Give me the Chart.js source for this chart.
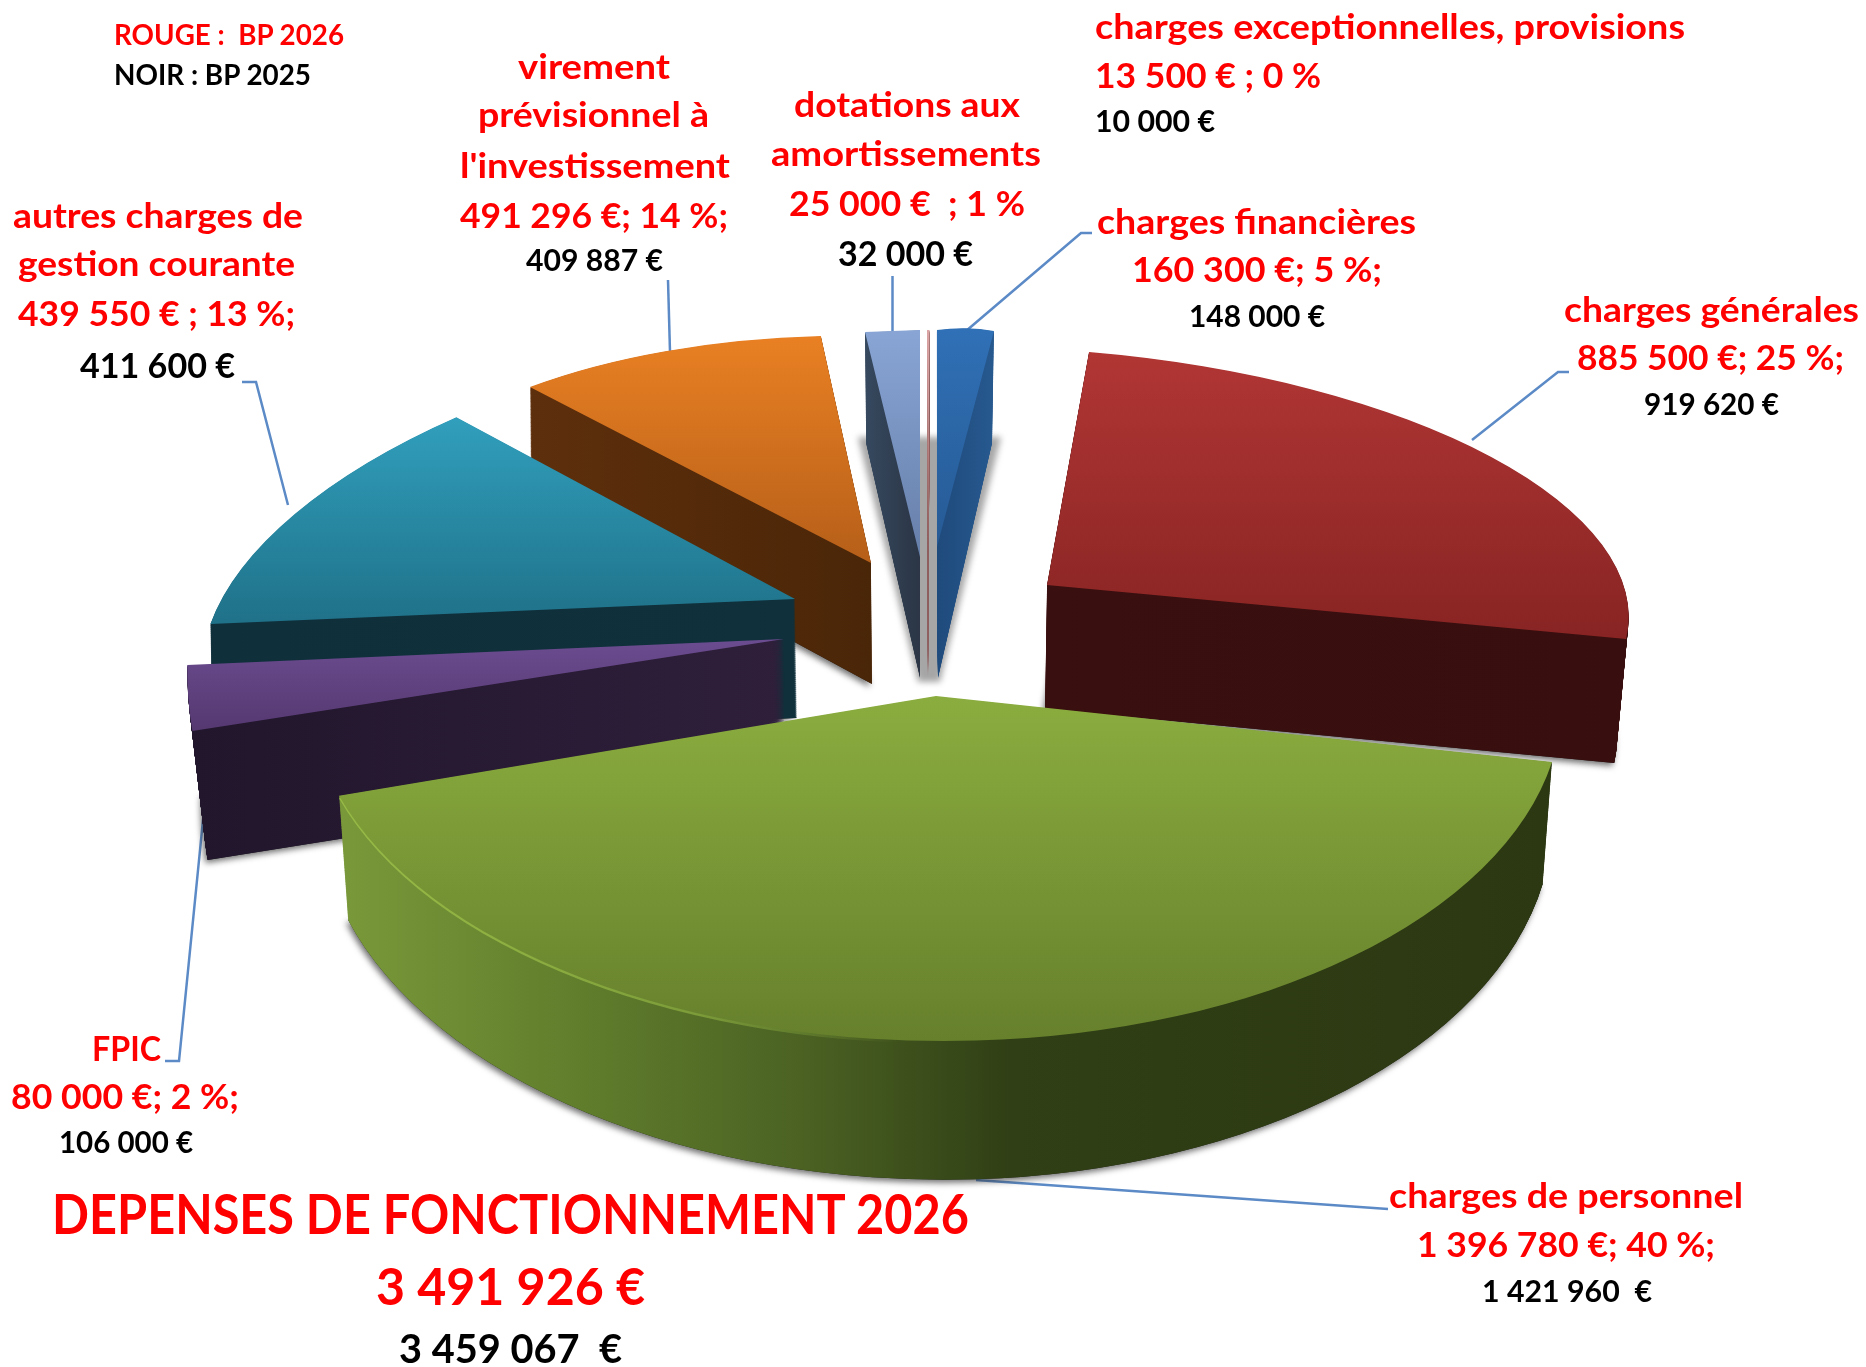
<!DOCTYPE html>
<html lang="fr">
<head>
<meta charset="utf-8">
<title>Dépenses de fonctionnement 2026</title>
<script src="https://cdn.jsdelivr.net/npm/chart.js@4/dist/chart.umd.min.js"></script>
<style>
html,body{margin:0;padding:0;background:#fff;width:1866px;height:1367px;overflow:hidden}
#chart{position:absolute;left:0;top:0}
.t{position:absolute;white-space:pre;font-family:Lato,Carlito,sans-serif;font-weight:700;line-height:1;transform-origin:0 0}
</style>
</head>
<body>
<canvas id="chart" width="1866" height="1367"></canvas>
<script>
// ---------- DATA ----------
const categories = ["charges exceptionnelles, provisions","charges financières","charges générales","charges de personnel","FPIC","autres charges de gestion courante","virement prévisionnel à l'investissement","dotations aux amortissements"];
const values2026 = [13500,160300,885500,1396780,80000,439550,491296,25000];
const values2025 = [10000,148000,919620,1421960,106000,411600,409887,32000];
const baseColors = ["#c98a8a","#2c66a8","#9c2d2c","#7a9a37","#5f4285","#2a87a3","#d0701f","#7a93c0"];

// ---------- STYLE / VIEW (oblique projection of each exploded slice) ----------
const paintOrder = [7,0,1,6,5,4,2,3];
const sliceViews = [
 {apex:[928,555],U:[100,0],V:[-1,-225],drop:123,dx:0,shrink:0,gx:0,gy:.05,
  top:[330,560,"#dca6a6","#b97f7f"],wall:[[900,"#a06a6a"],[960,"#7a5050"]],shadow:false},
 {apex:[937,547],U:[200.3,-33.3],V:[-4.9,-216.3],drop:131,dx:1,shrink:.05,gx:0,gy:.088,
  top:[330,550,"#3070b6","#265a94"],wall:[[937,"#1f4a7c"],[994,"#27598f"]],shadow:false},
 {apex:[1047,585],U:[565,-25.3],V:[-138.5,-236.6],drop:124,dx:-2,shrink:.017,gx:0,gy:0,
  top:[352,640,"#b13634","#872423"],wall:[[1040,"#3a0f0f"],[1630,"#380e0e"]],shadow:true},
 {apex:[936,696],U:[626,0],V:[-8,-345],drop:118,dx:0,shrink:.015,gx:0,gy:.06,sweep:[-8.2,0],
  top:[696,1041,"#8bad3f","#66802c"],wall:[[337,"#7a993a"],[560,"#62802d"],[800,"#4b6223"],[1010,"#303f15"],[1550,"#2c3812"]],
  rim:[[337,"rgba(155,190,72,.9)"],[700,"rgba(150,185,70,.6)"],[900,"rgba(150,185,70,0)"]],shadow:true},
 {apex:[784,639],U:[589,42.9],V:[96,-461],drop:129,dx:1,shrink:.024,gx:0,gy:0,
  top:[640,731,"#6b4c90","#553870"],wall:[[190,"#21162c"],[790,"#2f1f3b"]],shadow:true},
 {apex:[795,599],U:[563,17],V:[187.6,-281],drop:119,dx:2,shrink:0,gx:0,gy:0,
  top:[417,625,"#319fbd","#1f7188"],wall:[[210,"#0f2f3b"],[800,"#10303b"]],shadow:true},
 {apex:[871,563],U:[512.3,26.2],V:[38.6,-225.8],drop:121,dx:1,shrink:0,gx:.026,gy:0,sweep:[7.32,-7.33],
  top:[336,563,"#e98023","#b65f19"],wall:[[530,"#5e2f0c"],[872,"#4a2608"]],shadow:true},
 {apex:[920,557],U:[1223,-40],V:[0,-227],drop:121,dx:0,shrink:.02,gx:0,gy:.044,
  top:[330,560,"#89a5d5","#667fa9"],wall:[[865,"#36495f"],[920,"#2b3545"]],shadow:false}
];
const leaderColor = "#5b8ac6";
const leaders = [
 [[892.5,276],[892.5,332]],
 [[966,331],[1081,233],[1092,233]],
 [[668,280],[670,352]],
 [[242,382],[256,382],[288,505]],
 [[165,1061],[179,1061],[205,800]],
 [[1472,440],[1558,372],[1569,372]],
 [[976,1180],[1388,1209]]
];

// ---------- TEXT ----------
const red="#ff0000", black="#000000";
const textLines = [
 ["ROUGE :  BP 2026",114,344,45,28,red],
 ["NOIR : BP 2025",114,311,85,28,black],
 ["virement",518,670,79,34,red],
 ["prévisionnel à",478,709,127,34,red],
 ["l'investissement",460,730,178,34,red],
 ["491 296 €; 14 %;",460,728,228,34,red],
 ["409 887 €",526,663,271,30,black],
 ["dotations aux",794,1020,117,34,red],
 ["amortissements",771,1041,166,34,red],
 ["25 000 €  ; 1 %",789,1025,216,34,red],
 ["32 000 €",838,973,266,34,black],
 ["autres charges de",13,303,228,34,red],
 ["gestion courante",18,295,276,34,red],
 ["439 550 € ; 13 %;",18,295,326,34,red],
 ["411 600 €",80,235,378,34,black],
 ["charges exceptionnelles, provisions",1095,1685,39,34,red],
 ["13 500 € ; 0 %",1095,1321,88,34,red],
 ["10 000 €",1095,1215,132,30,black],
 ["charges financières",1097,1416,234,34,red],
 ["160 300 €; 5 %;",1132,1382,282,34,red],
 ["148 000 €",1189,1325,327,30,black],
 ["charges générales",1564,1859,322,34,red],
 ["885 500 €; 25 %;",1577,1844,370,34,red],
 ["919 620 €",1644,1779,415,30,black],
 ["charges de personnel",1389,1743,1208,34,red],
 ["1 396 780 €; 40 %;",1417,1715,1257,34,red],
 ["1 421 960  €",1482,1652,1302,30,black],
 ["FPIC",92,161,1061,34,red],
 ["80 000 €; 2 %;",11,239,1109,34,red],
 ["106 000 €",59,193,1153,30,black],
 ["DEPENSES DE FONCTIONNEMENT 2026",52,969,1235,55,red],
 ["3 491 926 €",376,645,1305,52,red],
 ["3 459 067  €",399,622,1363,40,black]
];

// ---------- DRAWING ----------
const layer = document.createElement("canvas");
layer.width = 1866; layer.height = 1367;
const lctx = layer.getContext("2d");

function matrix(view, arc, t){
  const R = arc.outerRadius, cx = arc.x, cy = arc.y;
  const warp = v => [v[0]*(1-t*view.shrink), v[1]+t*(view.gx*v[0]+view.gy*v[1])];
  const U = warp(view.U), V = warp(view.V);
  const ax = view.apex[0]+t*view.dx, ay = view.apex[1]+t*view.drop;
  const a=U[0]/R, b=U[1]/R, c=-V[0]/R, d=-V[1]/R;
  return [a,b,c,d,ax-a*cx-c*cy,ay-b*cx-d*cy];
}
function clearLayer(){
  lctx.setTransform(1,0,0,1,0,0);
  lctx.globalCompositeOperation="source-over";
  lctx.clearRect(0,0,1866,1367);
}
function paintLayer(fill){
  lctx.setTransform(1,0,0,1,0,0);
  lctx.globalCompositeOperation="source-in";
  lctx.fillStyle=fill;
  lctx.fillRect(0,0,1866,1367);
  lctx.globalCompositeOperation="source-over";
}
function hGradient(stops){
  const g=lctx.createLinearGradient(stops[0][0],0,stops[stops.length-1][0],0);
  const x0=stops[0][0],x1=stops[stops.length-1][0];
  stops.forEach(s=>g.addColorStop((s[0]-x0)/(x1-x0),s[1]));
  return g;
}
function drawSlice(ctx,arc,view){
  const s0=arc.startAngle,e0=arc.endAngle;
  if(view.sweep){
    arc.startAngle=s0+view.sweep[0]*Math.PI/180;
    arc.endAngle=e0+view.sweep[1]*Math.PI/180;
  }
  // cast shadow from the base plate of the slice
  if(view.shadow){
    clearLayer();
    lctx.setTransform(...matrix(view,arc,1));
    arc.draw(lctx);
    paintLayer("#222");
    ctx.save();
    ctx.shadowColor="rgba(50,50,50,.7)";ctx.shadowBlur=6;ctx.shadowOffsetX=-2;ctx.shadowOffsetY=3;
    ctx.drawImage(layer,0,0);
    ctx.restore();
  }
  // side walls: the slice swept downward through its thickness
  clearLayer();
  const n=Math.ceil(view.drop*1.5);
  for(let k=n;k>=1;k--){
    lctx.setTransform(...matrix(view,arc,k/n));
    arc.draw(lctx);
  }
  paintLayer(hGradient(view.wall));
  ctx.drawImage(layer,0,0);
  // highlighted rim
  if(view.rim){
    clearLayer();
    const m=matrix(view,arc,0);m[5]+=2.5;
    lctx.setTransform(...m);
    arc.draw(lctx);
    paintLayer(hGradient(view.rim));
    ctx.drawImage(layer,0,0);
  }
  // top face
  clearLayer();
  lctx.setTransform(...matrix(view,arc,0));
  arc.draw(lctx);
  const g=lctx.createLinearGradient(0,view.top[0],0,view.top[1]);
  g.addColorStop(0,view.top[2]);g.addColorStop(1,view.top[3]);
  paintLayer(g);
  ctx.drawImage(layer,0,0);
  arc.startAngle=s0;arc.endAngle=e0;
}
const pie3d={
  id:"pie3d",
  beforeDatasetsDraw(chart){
    const ctx=chart.ctx;
    ctx.save();
    ctx.strokeStyle=leaderColor;ctx.lineWidth=2.5;
    leaders.forEach(pts=>{
      ctx.beginPath();
      pts.forEach((p,i)=>i?ctx.lineTo(p[0],p[1]):ctx.moveTo(p[0],p[1]));
      ctx.stroke();
    });
    // soft ground shadow behind the three narrow slices
    ctx.filter="blur(3px)";
    ctx.fillStyle="#a6a6a6";
    ctx.beginPath();
    ctx.moveTo(858,437);ctx.lineTo(1001,437);ctx.lineTo(940,682);ctx.lineTo(918,682);ctx.closePath();
    ctx.fill();
    ctx.restore();
    const arcs=chart.getDatasetMeta(0).data;
    paintOrder.forEach(i=>drawSlice(ctx,arcs[i],sliceViews[i]));
    return false;
  }
};
new Chart(document.getElementById("chart"),{
  type:"pie",
  data:{labels:categories,datasets:[{data:values2026,backgroundColor:baseColors,borderWidth:0}]},
  options:{responsive:false,animation:false,events:[],rotation:0,
    layout:{padding:0},plugins:{legend:{display:false},tooltip:{enabled:false},title:{display:false}}},
  plugins:[pie3d]
});
textLines.forEach(([text,x0,x1,base,size,color])=>{
  const el=document.createElement("div");
  el.className="t";
  el.textContent=text;
  el.style.fontSize=size+"px";
  el.style.color=color;
  el.style.left=x0+"px";
  el.style.top=(base-0.887*size)+"px";
  document.body.appendChild(el);
  const w=el.getBoundingClientRect().width;
  el.style.transform="scaleX("+((x1-x0)/w)+")";
});
</script>
</body>
</html>
